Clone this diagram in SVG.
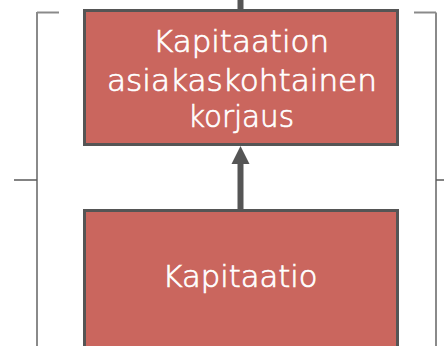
<svg xmlns="http://www.w3.org/2000/svg" width="444" height="346" viewBox="0 0 444 346">
<style>
.box{fill:#CA665E;stroke:#555555;stroke-width:3}
.lbl{fill:#ffffff;stroke:#ffffff;stroke-width:0.7;font-family:"DejaVu Sans",sans-serif;font-weight:200;font-size:30px;text-anchor:middle}
.br{stroke:#8a8a8a;stroke-width:2;fill:none}
.tick{stroke:#5a5a5a;stroke-width:1.5;fill:none}
.conn{stroke:#555555;stroke-width:6;fill:none}
</style>
<g id="brackets">
<path class="br" d="M37,12 V346"/>
<path class="br" d="M37,12.5 H59"/>
<path class="tick" d="M14,180 H37"/>
<path class="br" d="M436,12.5 V346"/>
<path class="br" d="M414,12.5 H436"/>
<path class="tick" d="M436,180 H444"/>
</g>
<g id="connectors">
<path class="conn" d="M240.5,0 V10"/>
<path class="conn" d="M240.5,209 V162"/>
<polygon points="240.5,146 231.5,164 249.5,164" fill="#555555"/>
</g>
<g id="node-korjaus">
<rect class="box" x="84.5" y="10.5" width="313" height="134"/>
<text class="lbl" x="241" y="52" textLength="176" lengthAdjust="spacingAndGlyphs">Kapitaation</text>
<text class="lbl" x="242" y="91" textLength="270" lengthAdjust="spacingAndGlyphs">asiakaskohtainen</text>
<text class="lbl" x="241" y="127" textLength="106" lengthAdjust="spacingAndGlyphs">korjaus</text>
</g>
<g id="node-kapitaatio">
<rect class="box" x="84.5" y="210.5" width="313" height="140"/>
<text class="lbl" x="240" y="287" textLength="155" lengthAdjust="spacingAndGlyphs">Kapitaatio</text>
</g>
</svg>
